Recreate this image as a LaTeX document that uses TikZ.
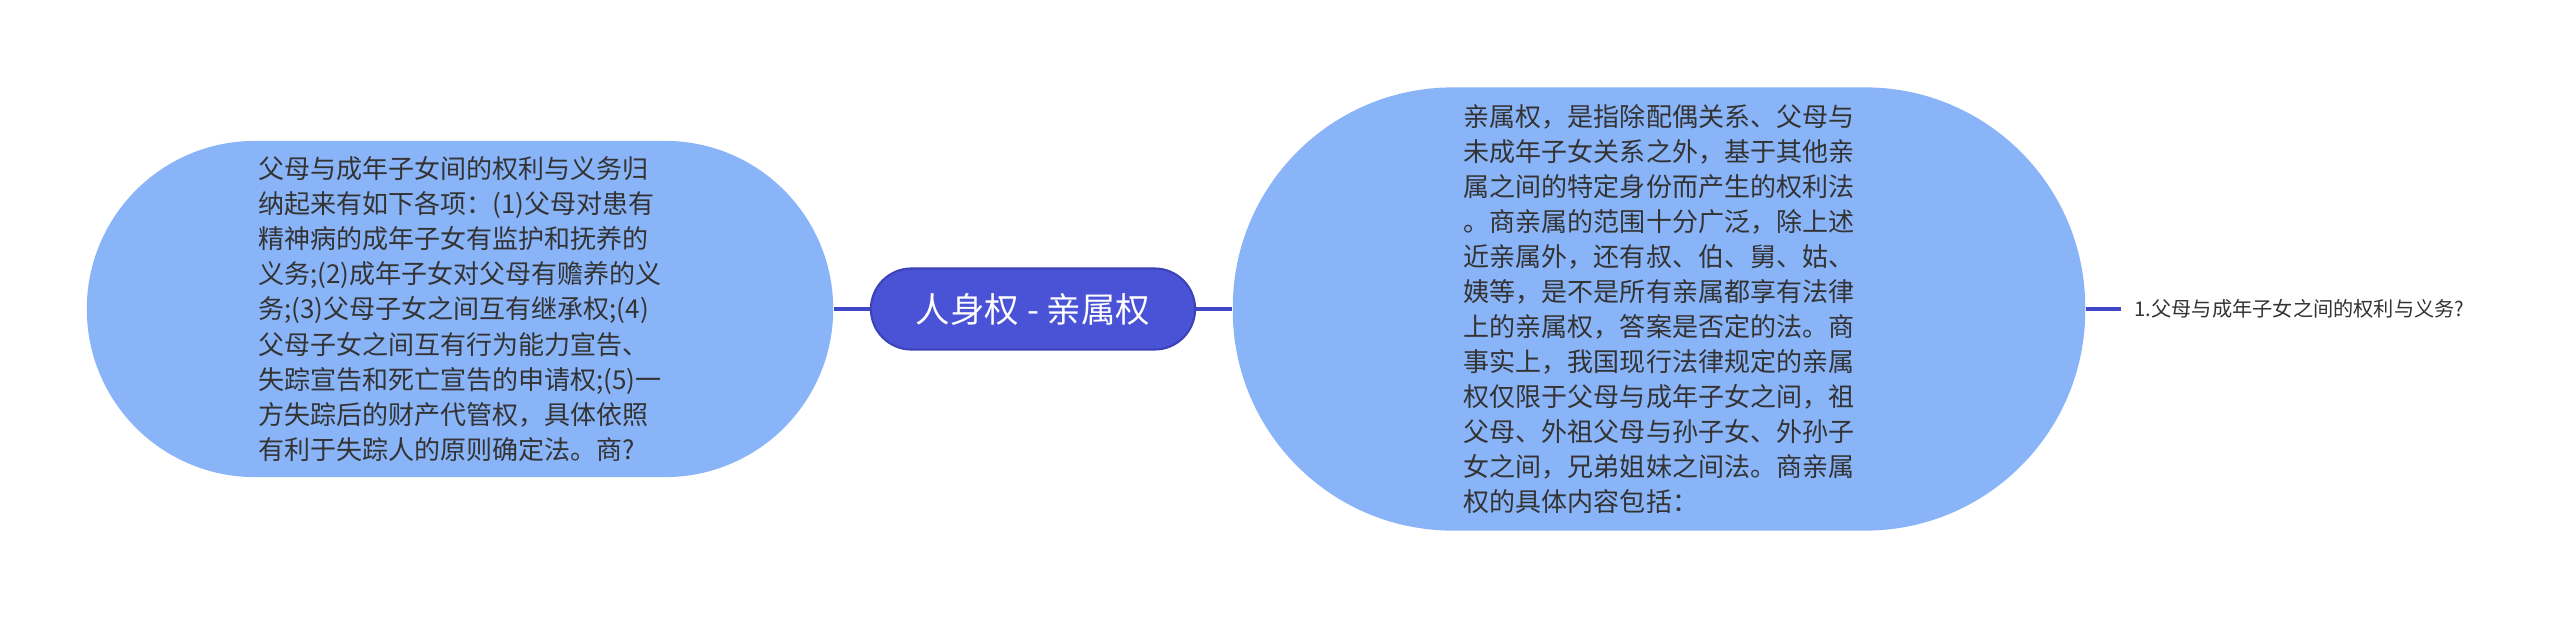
\documentclass[tikz,border=0pt]{standalone}
\usepackage{fontspec}
\setmainfont{Noto Sans CJK SC}
\usetikzlibrary{positioning}
\definecolor{topicblue}{HTML}{4A52D6}
\definecolor{topicedge}{HTML}{3C43B8}
\definecolor{bubble}{HTML}{8AB4F8}
\definecolor{linkblue}{HTML}{3F47C5}
\definecolor{inktext}{HTML}{333333}

\begin{document}
\begin{tikzpicture}[
    x=0.01cm, y=-0.01cm,
    topic/.style={draw=topicedge, line width=0.6pt, fill=topicblue, text=white, minimum width=3.24cm, minimum height=0.81cm, rounded corners=0.405cm, inner sep=0pt, font=\fontsize{9.8pt}{11pt}\selectfont},
    bubble/.style={fill=bubble, text=inktext, align=left, inner sep=0pt, font=\fontsize{7.4pt}{9.96pt}\selectfont},
    leaf/.style={text=inktext, inner xsep=0.13cm, inner ysep=0pt, font=\fontsize{5.75pt}{7pt}\selectfont},
    link/.style={draw=linkblue, line width=0.9pt}
]
\useasboundingbox (0,0) rectangle (2560,618);

% central topic
\node[topic] (root) at (1033,309) {人身权 - 亲属权};

% left bubble
\node[bubble, minimum width=7.46cm, minimum height=3.36cm, rounded corners=1.68cm] (duty) at (460,309) {父母与成年子女间的权利与义务归\\纳起来有如下各项：(1)父母对患有\\精神病的成年子女有监护和抚养的\\义务;(2)成年子女对父母有赡养的义\\务;(3)父母子女之间互有继承权;(4)\\父母子女之间互有行为能力宣告、\\失踪宣告和死亡宣告的申请权;(5)一\\方失踪后的财产代管权，具体依照\\有利于失踪人的原则确定法。商?};

% right bubble
\node[bubble, minimum width=8.52cm, minimum height=4.43cm, rounded corners=2.2cm] (kin) at (1659,309) {亲属权，是指除配偶关系、父母与\\未成年子女关系之外，基于其他亲\\属之间的特定身份而产生的权利法\\。商亲属的范围十分广泛，除上述\\近亲属外，还有叔、伯、舅、姑、\\姨等，是不是所有亲属都享有法律\\上的亲属权，答案是否定的法。商\\事实上，我国现行法律规定的亲属\\权仅限于父母与成年子女之间，祖\\父母、外祖父母与孙子女、外孙子\\女之间，兄弟姐妹之间法。商亲属\\权的具体内容包括：};

% leaf label
\node[leaf, right=0.35cm of kin] (q1) {1.父母与成年子女之间的权利与义务?};

% links
\draw[link] (duty.east) -- (root.west);
\draw[link] (root.east) -- (kin.west);
\draw[link] (kin.east) -- (q1.west);
\end{tikzpicture}
\end{document}
